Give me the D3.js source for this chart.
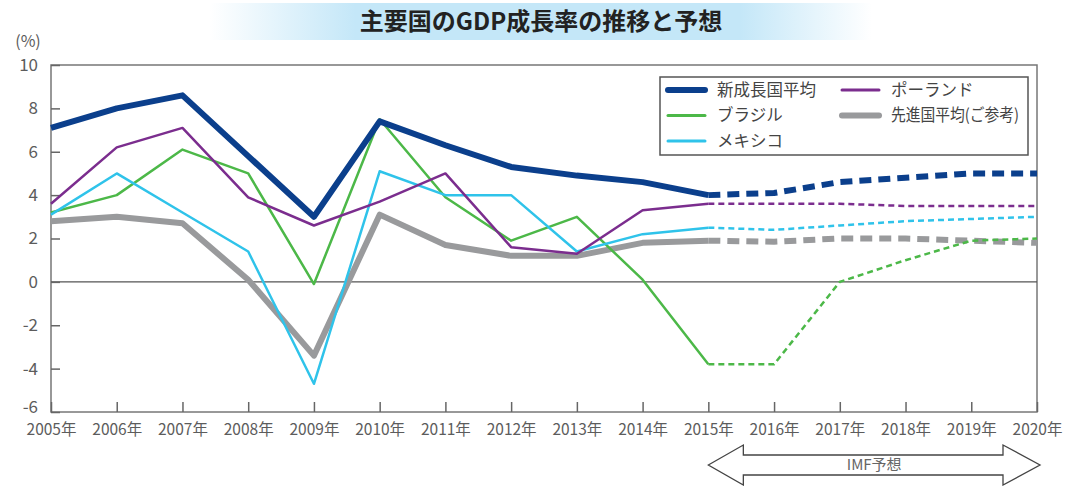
<!DOCTYPE html>
<html>
<head>
<meta charset="utf-8">
<script src="https://cdn.jsdelivr.net/npm/d3@7"></script>
<style>
  body { margin: 0; background: #fff; }
  svg text { font-family: "Noto Sans CJK JP", "Noto Sans", sans-serif; }
  .axis path { display: none; }
  .axis line { stroke: #666; stroke-width: 1.5; }
  .axis text { fill: #5c5c5c; }
</style>
</head>
<body>
<div id="chart"></div>
<script>
// years and growth rates (%), 2015 onward is IMF forecast
var years = [2005, 2006, 2007, 2008, 2009, 2010, 2011, 2012, 2013, 2014, 2015, 2016, 2017, 2018, 2019, 2020];
var emerging = [7.1, 8.0, 8.6, 5.8, 3.0, 7.4, 6.3, 5.3, 4.9, 4.6, 4.0, 4.1, 4.6, 4.8, 5.0, 5.0];
var poland = [3.6, 6.2, 7.1, 3.9, 2.6, 3.7, 5.0, 1.6, 1.3, 3.3, 3.6, 3.6, 3.6, 3.5, 3.5, 3.5];
var brazil = [3.2, 4.0, 6.1, 5.0, -0.1, 7.5, 3.9, 1.9, 3.0, 0.1, -3.8, -3.8, 0.0, 1.0, 1.9, 2.0];
var mexico = [3.1, 5.0, 3.2, 1.4, -4.7, 5.1, 4.0, 4.0, 1.4, 2.2, 2.5, 2.4, 2.6, 2.8, 2.9, 3.0];
var advanced = [2.8, 3.0, 2.7, 0.1, -3.4, 3.1, 1.7, 1.2, 1.2, 1.8, 1.9, 1.85, 2.0, 2.0, 1.9, 1.8];
var yTicks = [-6, -4, -2, 0, 2, 4, 6, 8, 10];
var forecastFrom = 2015;

var width = 1067, height = 486;
var plot = { left: 51, right: 1037, top: 65, bottom: 412 };

var svg = d3.select("#chart").append("svg").attr("width", width).attr("height", height);

// title banner
var defs = svg.append("defs");
var grad = defs.append("linearGradient").attr("id", "banner");
grad.append("stop").attr("offset", "0%").attr("stop-color", "#fff");
grad.append("stop").attr("offset", "22%").attr("stop-color", "#c4e7f8");
grad.append("stop").attr("offset", "80%").attr("stop-color", "#c4e7f8");
grad.append("stop").attr("offset", "100%").attr("stop-color", "#fff");
svg.append("rect").attr("x", 210).attr("y", 3).attr("width", 662).attr("height", 37).attr("fill", "url(#banner)");
svg.append("text").attr("x", 541).attr("y", 30).attr("text-anchor", "middle")
  .style("font-size", "24px").style("font-weight", "bold").attr("fill", "#222")
  .text("主要国のGDP成長率の推移と予想");

var x = d3.scaleLinear().domain([2005, 2020]).range([plot.left, plot.right]);
var y = d3.scaleLinear().domain([-6, 10]).range([plot.bottom, plot.top]);

// frame
svg.append("rect").attr("x", plot.left).attr("y", plot.top)
  .attr("width", plot.right - plot.left).attr("height", plot.bottom - plot.top)
  .attr("fill", "none").attr("stroke", "#777").attr("stroke-width", 1.5);

svg.append("line").attr("x1", plot.left).attr("x2", plot.right)
  .attr("y1", y(0)).attr("y2", y(0)).attr("stroke", "#555").attr("stroke-width", 1.2);

svg.append("g").attr("class", "axis").attr("transform", "translate(" + plot.left + ",0)")
  .call(d3.axisLeft(y).tickValues(yTicks).tickSize(-9).tickPadding(13).tickFormat(String))
  .selectAll("text").style("font-size", "17px")
  .filter(function (d) { return d === -6; }).attr("dy", "0em");

svg.append("g").attr("class", "axis").attr("transform", "translate(0," + plot.bottom + ")")
  .call(d3.axisBottom(x).tickValues(years).tickSize(-10).tickPadding(12).tickFormat(function (d) { return d + "年"; }))
  .selectAll("text").style("font-size", "15.5px");

svg.append("text").attr("x", 28).attr("y", 47).attr("text-anchor", "middle")
  .style("font-size", "16px").attr("fill", "#5c5c5c").text("(%)");

var series = [
  { name: "先進国平均(ご参考)", values: advanced, color: "#999a9c", width: 6, dash: "12,7" },
  { name: "ブラジル", values: brazil, color: "#4cb848", width: 2.5, dash: "6,4" },
  { name: "メキシコ", values: mexico, color: "#2fc3ea", width: 2.5, dash: "6,4" },
  { name: "ポーランド", values: poland, color: "#7b2d8e", width: 2.5, dash: "6,4" },
  { name: "新成長国平均", values: emerging, color: "#0b3f8c", width: 6, dash: "12,7" }
];

var line = d3.line().x(function (d) { return x(d.year); }).y(function (d) { return y(d.value); });

series.forEach(function (s) {
  var pts = years.map(function (yr, i) { return { year: yr, value: s.values[i] }; });
  var actual = pts.filter(function (d) { return d.year <= forecastFrom; });
  var forecast = pts.filter(function (d) { return d.year >= forecastFrom; });
  svg.append("path").datum(actual).attr("d", line).attr("fill", "none")
    .attr("stroke", s.color).attr("stroke-width", s.width).attr("stroke-linejoin", "round");
  svg.append("path").datum(forecast).attr("d", line).attr("fill", "none")
    .attr("stroke", s.color).attr("stroke-width", s.width).attr("stroke-dasharray", s.dash);
});

// legend
var legendItems = [
  { name: "新成長国平均", color: "#0b3f8c", width: 6, col: 0, row: 0 },
  { name: "ブラジル", color: "#4cb848", width: 3, col: 0, row: 1 },
  { name: "メキシコ", color: "#2fc3ea", width: 3, col: 0, row: 2 },
  { name: "ポーランド", color: "#7b2d8e", width: 3, col: 1, row: 0 },
  { name: "先進国平均(ご参考)", color: "#999a9c", width: 6, col: 1, row: 1 }
];
var legend = svg.append("g").attr("transform", "translate(660,77)");
legend.append("rect").attr("width", 368).attr("height", 78).attr("fill", "#fff")
  .attr("stroke", "#555").attr("stroke-width", 1.5);
var item = legend.selectAll("g.item").data(legendItems).enter().append("g")
  .attr("transform", function (d) { return "translate(" + (d.col ? 182 : 8) + "," + (13 + d.row * 25.5) + ")"; });
item.append("line").attr("x1", 0).attr("x2", 37).attr("stroke-linecap", "round")
  .attr("stroke", function (d) { return d.color; }).attr("stroke-width", function (d) { return d.width; });
item.append("text").attr("x", 49).attr("dy", "0.35em").style("font-size", "16.5px").attr("fill", "#444")
  .text(function (d) { return d.name; })
  .filter(function (d) { return d.name.length > 8; })
  .attr("textLength", 128).attr("lengthAdjust", "spacingAndGlyphs");

// IMF forecast arrow
var ax0 = x(2015), ax1 = 1040, ay = 465;
var arrow = [[ax0, ay], [ax0 + 35, ay - 20], [ax0 + 35, ay - 10], [ax1 - 37, ay - 10], [ax1 - 37, ay - 20],
  [ax1, ay], [ax1 - 37, ay + 20], [ax1 - 37, ay + 10], [ax0 + 35, ay + 10], [ax0 + 35, ay + 20]];
svg.append("path").attr("d", d3.line()(arrow) + "Z").attr("fill", "#fff").attr("stroke", "#444").attr("stroke-width", 1.3);
svg.append("text").attr("x", (ax0 + ax1) / 2).attr("y", ay).attr("dy", "0.35em").attr("text-anchor", "middle")
  .style("font-size", "15px").attr("fill", "#666").text("IMF予想");
</script>
</body>
</html>
